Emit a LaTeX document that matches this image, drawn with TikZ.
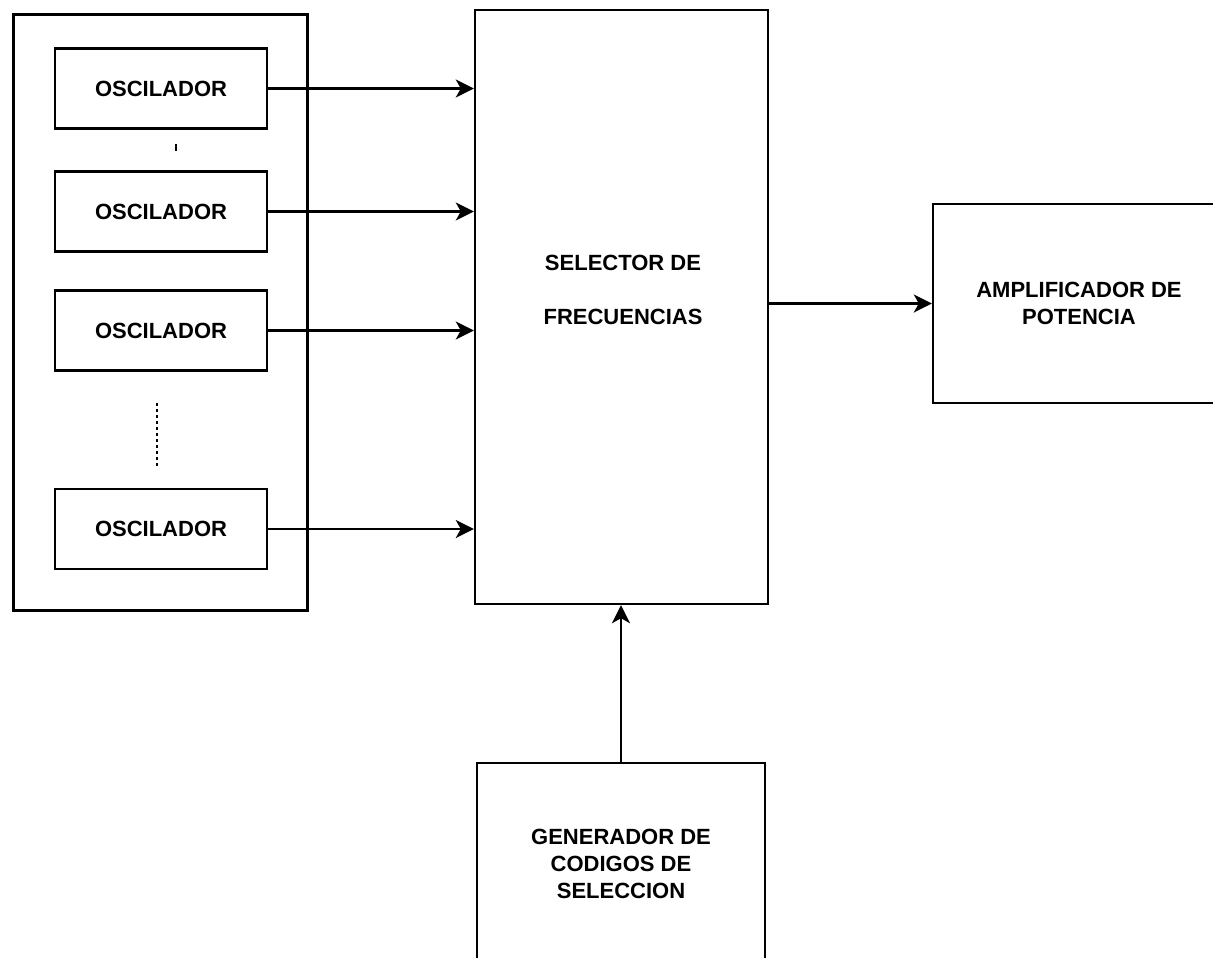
\documentclass[tikz,border=0pt]{standalone}
\usepackage{fontspec}
\setmainfont{Liberation Sans}
\usetikzlibrary{positioning, arrows.meta, calc}
\tikzset{
  blk/.style={draw, line width=1.2pt, align=center},
  osc/.style={draw, line width=1.1pt, minimum width=106pt, minimum height=40pt},
  arr/.style={line width=1.4pt, -{Stealth[length=9pt, width=9pt, inset=2.5pt]}}
}

\begin{document}
\begin{tikzpicture}[x=0.5pt, y=-0.5pt, every node/.style={font=\bfseries\fontsize{11}{13.5}\selectfont, inner sep=0pt}]
        \useasboundingbox (0,0) rectangle (1213,957);
        \node[draw, line width=1.5pt, minimum width=147pt, minimum height=297.5pt] (bank) at (160,312.5) {};
        \node[osc] (osc1) at (161,88.5) {OSCILADOR};
        \node[osc] (osc2) at (161,211.5) {OSCILADOR};
        \node[osc] (osc3) at (161,330.5) {OSCILADOR};
        \node[osc] (osc4) at (161,529) {OSCILADOR};
        \draw[line width=0.8pt] (176,144) -- (176,151);
        \draw[line width=1pt, dash pattern=on 1.5pt off 1.5pt] (157,403) -- (157,468);
        \node[blk, minimum width=146.5pt, minimum height=297pt] (sel) at (621.5,307) {};
        \node[align=center] (seltxt) at (623,290) {SELECTOR DE\\[13.5pt]FRECUENCIAS};
        \node[blk, minimum width=146pt, minimum height=99.5pt] (amp) at (1079,303.5) {AMPLIFICADOR DE\\POTENCIA};
        \node[blk, minimum width=144pt, minimum height=101pt] (gen) at (621,864) {GENERADOR DE\\CODIGOS DE\\SELECCION};
        \draw[arr] (osc1.east) -- (osc1.east -| sel.west);
        \draw[arr] (osc2.east) -- (osc2.east -| sel.west);
        \draw[arr] (osc3.east) -- (osc3.east -| sel.west);
        \draw[arr] (osc4.east) -- (osc4.east -| sel.west);
        \draw[arr] (sel.east |- amp.west) -- (amp.west);
        \draw[arr] (gen.north) -- (gen.north |- sel.south);
      \end{tikzpicture}
\end{document}
